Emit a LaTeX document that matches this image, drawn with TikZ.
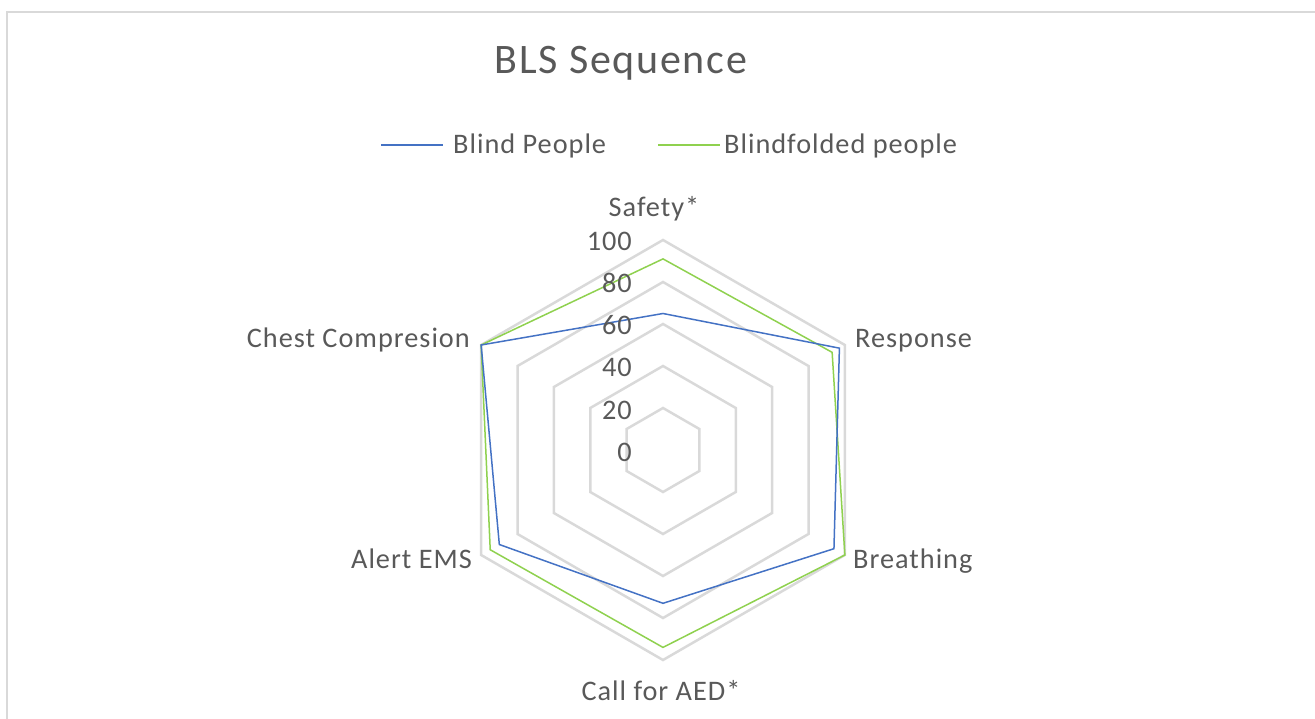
\documentclass[tikz,border=0pt]{standalone}
\usepackage{fontspec}
\setmainfont{Carlito}
\newfontfamily\titlefont[LetterSpace=4]{Carlito}
\newfontfamily\labfont[LetterSpace=3.5]{Carlito}
\usepackage{xcolor}
\definecolor{blindc}{HTML}{4472C4}
\definecolor{foldc}{HTML}{8FD14F}
\definecolor{gridc}{HTML}{D9D9D9}
\definecolor{textc}{HTML}{595959}

\begin{document}
\begin{tikzpicture}[x=1pt,y=-1pt,
    font=\labfont\fontsize{28.3}{33}\selectfont, text=textc, inner sep=0pt,
    ring/.style={gridc, line width=2.5, line join=miter},
    series/.style={line width=1.5, line join=miter}]
  \def\cx{663}\def\cy{450}\def\unit{2.1}
  \useasboundingbox (0,0) rectangle (1315,719);
  % chart frame
  \draw[gridc, line width=2] (1315,12) -- (7,12) -- (7,719);

  \node[anchor=base, font=\titlefont\fontsize{42}{50}\selectfont] (title) at (621,74) {BLS Sequence};

  % legend
  \coordinate (lb1) at (381,145); \coordinate (lb2) at (443,145);
  \coordinate (lf1) at (658,145); \coordinate (lf2) at (720,145);
  \draw[series, blindc] (lb1) -- (lb2);
  \draw[series, foldc] (lf1) -- (lf2);
  \node[anchor=base west] (legblind) at (453,154) {Blind People};
  \node[anchor=base west] (legfold) at (724,154) {Blindfolded people};

  \begin{scope}[shift={(\cx,\cy)}]
    % grid rings, 20 to 100
    \foreach \v in {20,40,...,100}
      \draw[ring] (-90:\v*\unit) -- (-30:\v*\unit) -- (30:\v*\unit)
        -- (90:\v*\unit) -- (150:\v*\unit) -- (210:\v*\unit) -- cycle;
    % data points
    \foreach \v [count=\k from 0] in {65,97,94,73,90,100}
      \coordinate (b\k) at ({-90+60*\k}:{\v*\unit});
    \foreach \v [count=\k from 0] in {91,93,100,94,95,100}
      \coordinate (f\k) at ({-90+60*\k}:{\v*\unit});
  \end{scope}

  % series
  \draw[series, foldc] (f0) -- (f1) -- (f2) -- (f3) -- (f4) -- (f5) -- cycle;
  \draw[series, blindc] (b0) -- (b1) -- (b2) -- (b3) -- (b4) -- (b5) -- cycle;

  % axis values
  \foreach \v in {0,20,...,100}
    \node[anchor=base east] (t\v) at (632,{461-\v*\unit}) {\v};

  % category labels
  \node[anchor=base] (safety) at (654,217) {Safety*};
  \node[anchor=base west] (response) at (855,348) {Response};
  \node[anchor=base west] (breathing) at (853,568) {Breathing};
  \node[anchor=base] (aed) at (661,700) {Call for AED*};
  \node[anchor=base east] (ems) at (472,568) {Alert EMS};
  \node[anchor=base east] (chest) at (470,348) {Chest Compresion};
\end{tikzpicture}
\end{document}
